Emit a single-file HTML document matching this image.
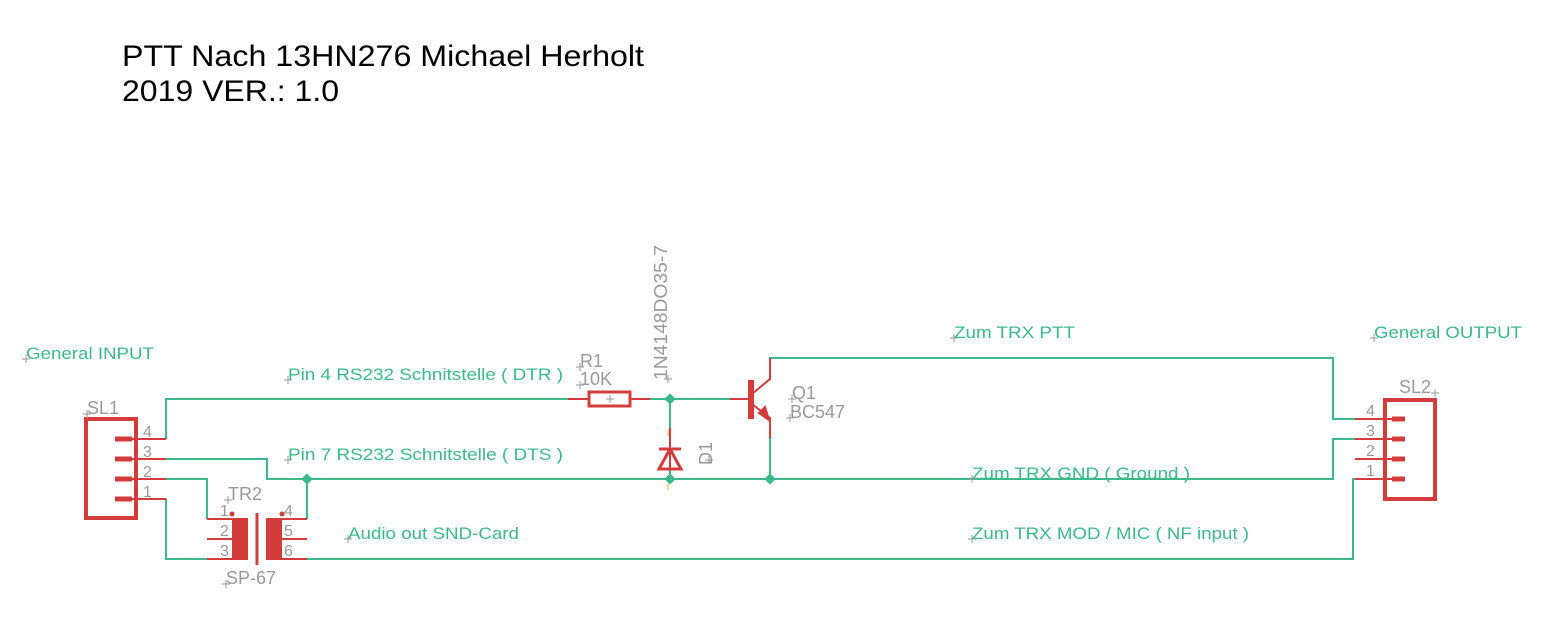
<!DOCTYPE html>
<html><head><style>html,body{margin:0;padding:0;background:#fff;}svg{display:block}</style></head><body>
<svg width="1550" height="640" xmlns="http://www.w3.org/2000/svg" font-family="Liberation Sans, sans-serif">
<rect width="1550" height="640" fill="#fff"/>
<text x="122" y="66" font-size="30" fill="#000" textLength="522" lengthAdjust="spacingAndGlyphs">PTT Nach 13HN276 Michael Herholt</text>
<text x="122" y="101" font-size="30" fill="#000" textLength="217" lengthAdjust="spacingAndGlyphs">2019 VER.: 1.0</text>

<g stroke="#3cb98a" stroke-width="2" fill="none">
<polyline points="166,439 166,399 568,399"/>
<line x1="650" y1="399" x2="730" y2="399"/>
<line x1="670" y1="399" x2="670" y2="428"/>
<line x1="670" y1="470" x2="670" y2="479"/>
<polyline points="770,380 770,358 1333,358 1333,419 1355,419"/>
<polyline points="166,459 267,459 267,479 1333,479 1333,439 1355,439"/>
<polyline points="166,479 207,479 207,519"/>
<polyline points="166,499 166,559 207,559"/>
<polyline points="307,519 307,479"/>
<polyline points="307,559 1353,559 1353,479 1355,479"/>
<line x1="770" y1="438" x2="770" y2="479"/>
</g>
<g fill="#3cb98a">
<rect x="303" y="475" width="8" height="8" transform="rotate(45 307 479)"/>
<rect x="666" y="395" width="8" height="8" transform="rotate(45 670 399)"/>
<rect x="666" y="475" width="8" height="8" transform="rotate(45 670 479)"/>
<rect x="766" y="475" width="8" height="8" transform="rotate(45 770 479)"/>
</g>

<g stroke="#d43c3c" fill="none">
<rect x="86" y="419" width="50" height="99" stroke-width="4"/>
<g stroke-width="2"><line x1="115" y1="439" x2="166" y2="439"/><line x1="115" y1="459" x2="166" y2="459"/><line x1="115" y1="479" x2="166" y2="479"/><line x1="115" y1="499" x2="166" y2="499"/></g>
<g stroke-width="5"><line x1="115" y1="439" x2="132" y2="439"/><line x1="115" y1="459" x2="132" y2="459"/><line x1="115" y1="479" x2="132" y2="479"/><line x1="115" y1="499" x2="132" y2="499"/></g>
<rect x="1385" y="400" width="50" height="99" stroke-width="4"/>
<g stroke-width="2"><line x1="1355" y1="419" x2="1405" y2="419"/><line x1="1355" y1="439" x2="1405" y2="439"/><line x1="1355" y1="459" x2="1405" y2="459"/><line x1="1355" y1="479" x2="1405" y2="479"/></g>
<g stroke-width="5"><line x1="1392" y1="419" x2="1405" y2="419"/><line x1="1392" y1="439" x2="1405" y2="439"/><line x1="1392" y1="459" x2="1405" y2="459"/><line x1="1392" y1="479" x2="1405" y2="479"/></g>
<line x1="568" y1="399" x2="590" y2="399" stroke-width="2"/>
<line x1="630" y1="399" x2="650" y2="399" stroke-width="2"/>
<rect x="589" y="392" width="41" height="14" stroke-width="3"/>
<line x1="730" y1="399" x2="748" y2="399" stroke-width="2"/>
<polyline points="752,394 770,379 770,358" stroke-width="2"/>
<polyline points="752,404 770,418 770,438" stroke-width="2"/>
<polygon points="769,420 759,413 765,407" fill="#d43c3c" stroke-width="2"/>
<line x1="670" y1="428" x2="670" y2="470" stroke-width="2"/>
<line x1="659" y1="449" x2="681" y2="449" stroke-width="3"/>
<polygon points="670,449 659,469 681,469" stroke-width="3"/>
<g stroke-width="2"><line x1="207" y1="519" x2="248" y2="519"/><line x1="207" y1="539" x2="248" y2="539"/><line x1="207" y1="559" x2="248" y2="559"/>
<line x1="266" y1="519" x2="307" y2="519"/><line x1="266" y1="539" x2="307" y2="539"/><line x1="266" y1="559" x2="307" y2="559"/></g>
<line x1="257" y1="513" x2="257" y2="565" stroke-width="3"/>
</g>
<rect x="748" y="380" width="6" height="39" fill="#d43c3c"/>
<rect x="232" y="518" width="16" height="42" fill="#d43c3c"/>
<rect x="266" y="518" width="16" height="42" fill="#d43c3c"/>
<circle cx="232" cy="514" r="2.5" fill="#d43c3c"/><circle cx="282" cy="514" r="2.5" fill="#d43c3c"/>
<g stroke="#e8b020" stroke-width="1"><line x1="668" y1="430" x2="668" y2="436"/><line x1="668" y1="484" x2="668" y2="490"/></g>

<g fill="#3cb98a" font-size="17">
<text x="26" y="359" textLength="128" lengthAdjust="spacingAndGlyphs">General INPUT</text>
<text x="954" y="338" textLength="121" lengthAdjust="spacingAndGlyphs">Zum TRX PTT</text>
<text x="1374" y="338" textLength="148" lengthAdjust="spacingAndGlyphs">General OUTPUT</text>
<text x="288" y="380" textLength="275" lengthAdjust="spacingAndGlyphs">Pin 4 RS232 Schnitstelle ( DTR )</text>
<text x="288" y="460" textLength="275" lengthAdjust="spacingAndGlyphs">Pin 7 RS232 Schnitstelle ( DTS )</text>
<text x="972" y="479" textLength="218" lengthAdjust="spacingAndGlyphs">Zum TRX GND ( Ground )</text>
<text x="348" y="539" textLength="171" lengthAdjust="spacingAndGlyphs">Audio out SND-Card</text>
<text x="972" y="539" textLength="277" lengthAdjust="spacingAndGlyphs">Zum TRX MOD / MIC ( NF input )</text>
</g>
<g fill="#999" font-size="18">
<text x="87" y="414">SL1</text>
<text x="1399" y="393">SL2</text>
<text x="228" y="500">TR2</text>
<text x="226" y="584">SP-67</text>
<text x="580" y="367">R1</text>
<text x="580" y="385">10K</text>
<text x="792" y="399">Q1</text>
<text x="790" y="418">BC547</text>
<text transform="translate(712,465) rotate(-90)">D1</text>
<text transform="translate(667,380) rotate(-90)" textLength="135" lengthAdjust="spacingAndGlyphs">1N4148DO35-7</text>
<g font-size="16">
<text x="143" y="437">4</text><text x="143" y="457">3</text><text x="143" y="477">2</text><text x="143" y="497">1</text>
<text x="1366" y="416">4</text><text x="1366" y="436">3</text><text x="1366" y="456">2</text><text x="1366" y="476">1</text>
<text x="220" y="516">1</text><text x="220" y="536">2</text><text x="220" y="556">3</text>
<text x="284" y="516">4</text><text x="284" y="536">5</text><text x="284" y="556">6</text>
</g>
</g>
<g stroke="#999" stroke-width="1">
<path d="M22,359h8M26,355v8M950,338h8M954,334v8M1370,338h8M1374,334v8M284,380h8M288,376v8M284,460h8M288,456v8M968,479h8M972,475v8M344,539h8M348,535v8M968,539h8M972,535v8M83,414h8M87,410v8M1431,393h8M1435,389v8M224,500h8M228,496v8M222,584h8M226,580v8M576,367h8M580,363v8M576,385h8M580,381v8M788,399h8M792,395v8M786,418h8M790,414v8M705,460h8M709,456v8M664,379h8M668,375v8M606,399h8M610,395v8"/>
</g>
</svg>
</body></html>
